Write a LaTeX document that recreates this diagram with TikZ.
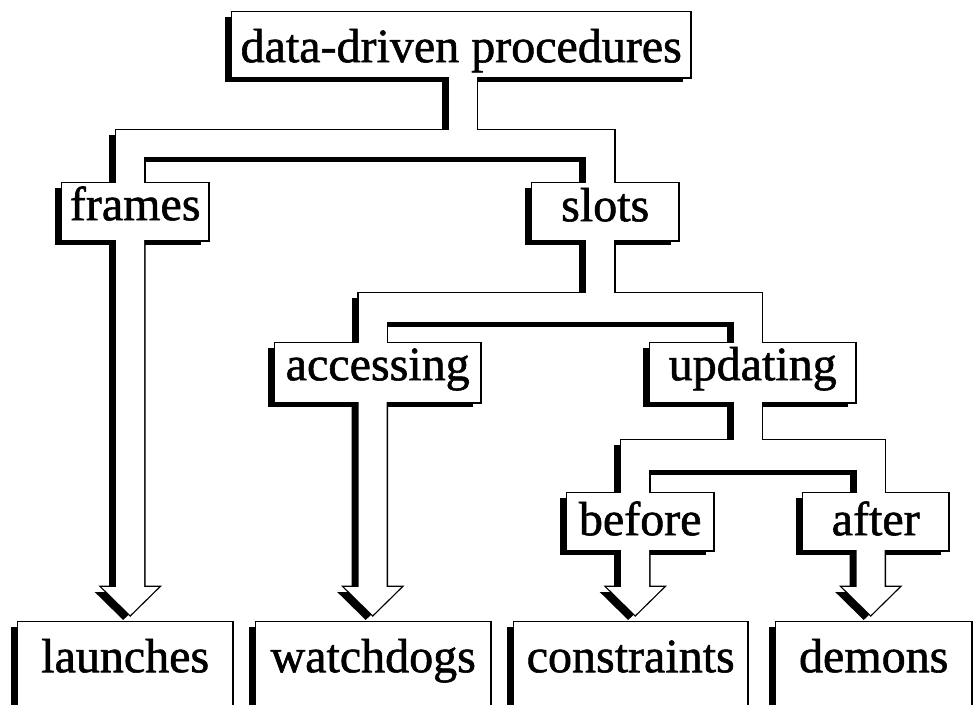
\documentclass[tikz,border=0pt]{standalone}
\usepackage{fontspec}
\setmainfont[FakeBold=1.2]{Liberation Serif}
\usetikzlibrary{calc}
\pgfdeclarelayer{bgL}
\pgfdeclarelayer{shadowL}
\pgfdeclarelayer{strokeL}
\pgfdeclarelayer{fillL}
\pgfsetlayers{bgL,shadowL,strokeL,fillL,main}
% a raised white shape: drop shadow, outline, white fill (union of all shapes)
\newcommand\raised[1]{%
  \begin{pgfonlayer}{shadowL}\begin{scope}[transform canvas={shift={(-7,5)}}]\fill[black] #1;\end{scope}\end{pgfonlayer}%
  \begin{pgfonlayer}{strokeL}\draw[black,line width=2.6pt,line join=miter] #1;\end{pgfonlayer}%
  \begin{pgfonlayer}{fillL}\fill[white] #1;\end{pgfonlayer}}
% vertical pipe along axis #1 from #2 to #3
\newcommand\vpipe[3]{\raised{($(#1|-#2)+(-14,0)$) rectangle ($(#1|-#3)+(14,0)$)}}
% horizontal bar from axis #1 to axis #2 between levels #3 and #4
\newcommand\hpipe[4]{\raised{($(#1|-#3)+(-14,0)$) rectangle ($(#2|-#4)+(14,0)$)}}
% hollow block arrow along axis #1 from #2 pointing to node #3
\newcommand\arrowpipe[3]{\raised{($(#1|-#2)+(-14,0)$) -- ($(#1|-#3.north)+(-14,-35)$) -- ($(#1|-#3.north)+(-28.5,-35)$) -- ($(#1|-#3.north)+(0,-7)$) -- ($(#1|-#3.north)+(28.5,-35)$) -- ($(#1|-#3.north)+(14,-35)$) -- ($(#1|-#2)+(14,0)$) -- cycle}}
\newcommand\raisedbox[1]{\raised{(#1.north west) rectangle (#1.south east)}}
\begin{document}
\begin{tikzpicture}[x=1pt,y=-1pt,
  lbl/.style={inner sep=0pt, anchor=north west, align=center, font=\fontsize{48}{50}\selectfont}]
\useasboundingbox (0,0) rectangle (973,704);
\begin{pgfonlayer}{bgL}\fill[white] (0,0) rectangle (973,704);\end{pgfonlayer}
% boxes
\node[lbl, minimum width=458pt, text height=50pt, text depth=15pt] (top) at (232,12) {data-driven procedures};
\node[lbl, minimum width=146pt, text height=37pt, text depth=20pt] (frames) at (62,183) {frames};
\node[lbl, minimum width=146pt, text height=38pt, text depth=19pt] (slots) at (532,183) {slots};
\node[lbl, minimum width=205pt, text height=37pt, text depth=22pt] (accessing) at (275,343) {accessing};
\node[lbl, minimum width=205pt, text height=37pt, text depth=22pt] (updating) at (650,343) {updating};
\node[lbl, minimum width=146pt, text height=42pt, text depth=15pt] (before) at (567,493) {before};
\node[lbl, minimum width=145pt, text height=42pt, text depth=15pt] (after) at (803,493) {after};
\node[lbl, minimum width=214pt, text height=50pt, text depth=48pt] (launches) at (18,622) {launches};
\node[lbl, minimum width=234pt, text height=50pt, text depth=48pt] (watchdogs) at (256,622) {watchdogs};
\node[lbl, minimum width=233pt, text height=50pt, text depth=48pt] (constraints) at (514,622) {constraints};
\node[lbl, minimum width=195pt, text height=50pt, text depth=48pt] (demons) at (776,622) {demons};
% pipe axes
\coordinate (ax-top) at ($(top.center)+(1.5,0)$);
\foreach \n in {frames,slots,accessing,updating,before,after}
  \coordinate (ax-\n) at ($(\n.center)+(-5,0)$);
% junction levels
\coordinate (j1t) at (0,130); \coordinate (j1b) at (0,157);
\coordinate (j2t) at (0,293); \coordinate (j2b) at (0,322);
\coordinate (j3t) at (0,440); \coordinate (j3b) at (0,470);
% raised boxes
\foreach \n in {top,frames,slots,accessing,updating,before,after,launches,watchdogs,constraints,demons}
  {\raisedbox{\n}}
% pipes
\vpipe{ax-top}{top.center}{j1b}
\hpipe{ax-frames}{ax-slots}{j1t}{j1b}
\vpipe{ax-frames}{j1t}{frames.center}
\vpipe{ax-slots}{j1t}{slots.center}
\arrowpipe{ax-frames}{frames.center}{launches}
\vpipe{ax-slots}{slots.center}{j2b}
\hpipe{ax-accessing}{ax-updating}{j2t}{j2b}
\vpipe{ax-accessing}{j2t}{accessing.center}
\vpipe{ax-updating}{j2t}{updating.center}
\arrowpipe{ax-accessing}{accessing.center}{watchdogs}
\vpipe{ax-updating}{updating.center}{j3b}
\hpipe{ax-before}{ax-after}{j3t}{j3b}
\vpipe{ax-before}{j3t}{before.center}
\vpipe{ax-after}{j3t}{after.center}
\arrowpipe{ax-before}{before.center}{constraints}
\arrowpipe{ax-after}{after.center}{demons}
\end{tikzpicture}
\end{document}
